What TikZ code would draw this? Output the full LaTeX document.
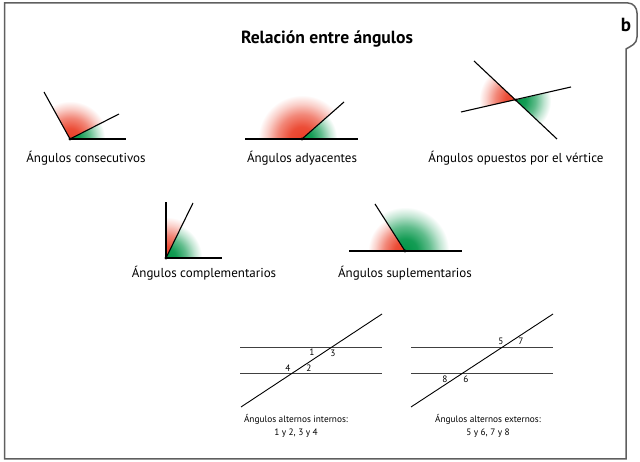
\documentclass[tikz,border=0pt]{standalone}
\usepackage{fontspec}
\setmainfont{PT Sans}
\definecolor{angred}{RGB}{234,62,38}
\definecolor{anggreen}{RGB}{0,148,70}
\definecolor{framegray}{RGB}{95,95,95}
\pgfdeclareradialshading{redfade}{\pgfpoint{0bp}{0bp}}{color(0bp)=(angred); color(14bp)=(angred!92); color(28bp)=(angred!62); color(40bp)=(angred!25); color(50bp)=(white)}
\pgfdeclareradialshading{greenfade}{\pgfpoint{0bp}{0bp}}{color(0bp)=(anggreen); color(14bp)=(anggreen!92); color(28bp)=(anggreen!62); color(40bp)=(anggreen!25); color(50bp)=(white)}
\newcommand\angsector[5]{%
  \begin{scope}
    \clip (#1) -- ++(#2:#4+2) arc[start angle=#2,end angle=#3,radius=#4+2] -- cycle;
    \begin{scope}[shift={(#1)}, scale=#4/50.19]
      \pgflowlevelsynccm
      \pgfuseshading{#5}%
    \end{scope}
  \end{scope}}
\begin{document}
\begin{tikzpicture}[x=1pt,y=1pt,
  ray/.style={line width=1.1pt, black},
  thin line/.style={line width=0.9pt, black!75},
  trans/.style={line width=0.9pt, black},
  frame/.style={line width=1.5pt, framegray},
  lbl/.style={font=\fontsize{13}{15}\selectfont, inner sep=0pt},
  captext/.style={font=\fontsize{9.3}{13}\selectfont, inner sep=0pt, align=center},
  num/.style={font=\fontsize{9.3}{10}\selectfont, inner sep=0pt},
  vdot/.style={fill=black}]
\useasboundingbox (0,0) rectangle (640,462);
% frame
\draw[frame] (4.5,3) -- (4.5,459) -- (628,459) to[out=0,in=90] (637,449) -- (637,425)
  .. controls (637,418) and (631,416) .. (626,413) -- (626,3) -- cycle;
\node[font=\bfseries\fontsize{19}{20}\selectfont, inner sep=0pt] (b) at (626,437) {b};
\node[font=\bfseries\fontsize{17.6}{20}\selectfont, inner sep=0pt] (title) at (327,423) {Relación entre ángulos};

% 1 consecutivos
\coordinate (v1) at (70,323);
\coordinate (a1) at (126,323);
\coordinate (b1) at (119,348);
\coordinate (c1) at (44,370);
\angsector{v1}{27}{119}{38}{redfade}
\angsector{v1}{0}{27}{35}{greenfade}
\draw[ray] (v1) -- (a1);
\draw[ray] (v1) -- (b1);
\draw[ray] (v1) -- (c1);
\fill[vdot] (v1) circle (1.7);
\node[lbl] (l1) at (86,304) {Ángulos consecutivos};

% 2 adyacentes
\coordinate (v2) at (302,323);
\coordinate (a2) at (245,323);
\coordinate (b2) at (358,323);
\coordinate (c2) at (344,360);
\angsector{v2}{41}{180}{44}{redfade}
\angsector{v2}{0}{41}{35}{greenfade}
\draw[ray] (a2) -- (b2);
\draw[ray] (v2) -- (c2);
\fill[vdot] (v2) circle (1.7);
\node[lbl] (l2) at (302,304) {Ángulos adyacentes};

% 3 opuestos por el vertice
\coordinate (v3) at (516,362);
\coordinate (a3) at (474,401);
\coordinate (b3) at (557,323);
\coordinate (c3) at (461,350);
\coordinate (d3) at (571,375);
\angsector{v3}{137}{192}{37}{redfade}
\angsector{v3}{-44}{13}{35}{greenfade}
\draw[ray] (a3) -- (b3);
\draw[ray] (c3) -- (d3);
\fill[vdot] (v3) circle (1.7);
\node[lbl] (l3) at (516,304) {Ángulos opuestos por el vértice};

% 4 complementarios
\coordinate (v4) at (166,204);
\coordinate (a4) at (222,204);
\coordinate (b4) at (193,259);
\coordinate (c4) at (166,260);
\angsector{v4}{64}{90}{41}{redfade}
\angsector{v4}{0}{64}{36}{greenfade}
\draw[ray] (v4) -- (a4);
\draw[ray] (v4) -- (b4);
\draw[ray] (v4) -- (c4);
\fill[vdot] (v4) circle (1.7);
\node[lbl] (l4) at (204,189) {Ángulos complementarios};

% 5 suplementarios
\coordinate (v5) at (405,211);
\coordinate (a5) at (349,211);
\coordinate (b5) at (462,211);
\coordinate (c5) at (375,258);
\angsector{v5}{122.5}{180}{37}{redfade}
\angsector{v5}{0}{122.5}{44}{greenfade}
\draw[ray] (a5) -- (b5);
\draw[ray] (v5) -- (c5);
\fill[vdot] (v5) circle (1.7);
\node[lbl] (l5) at (405,189) {Ángulos suplementarios};

% parallels, internos
\coordinate (p1a) at (240,115); \coordinate (p1b) at (382,115);
\coordinate (p1c) at (240,89);  \coordinate (p1d) at (382,89);
\coordinate (t1a) at (241,55);  \coordinate (t1b) at (382,148);
\draw[thin line] (p1a) -- (p1b);
\draw[thin line] (p1c) -- (p1d);
\draw[trans] (t1a) -- (t1b);
\node[num] (n1) at (312,110) {1};
\node[num] (n3) at (333,109) {3};
\node[num] (n4) at (288,94) {4};
\node[num] (n2) at (309,94) {2};
\node[captext] (cap1) at (296,36) {Ángulos alternos internos:\\1 y 2, 3 y 4};

% parallels, externos
\coordinate (p2a) at (411,115); \coordinate (p2b) at (553,115);
\coordinate (p2c) at (411,89);  \coordinate (p2d) at (553,89);
\coordinate (t2a) at (411,55);  \coordinate (t2b) at (553,148);
\draw[thin line] (p2a) -- (p2b);
\draw[thin line] (p2c) -- (p2d);
\draw[trans] (t2a) -- (t2b);
\node[num] (n5) at (501,121) {5};
\node[num] (n7) at (521,121) {7};
\node[num] (n8) at (445,83) {8};
\node[num] (n6) at (466,83) {6};
\node[captext] (cap2) at (488,36) {Ángulos alternos externos:\\5 y 6, 7 y 8};
\end{tikzpicture}
\end{document}
